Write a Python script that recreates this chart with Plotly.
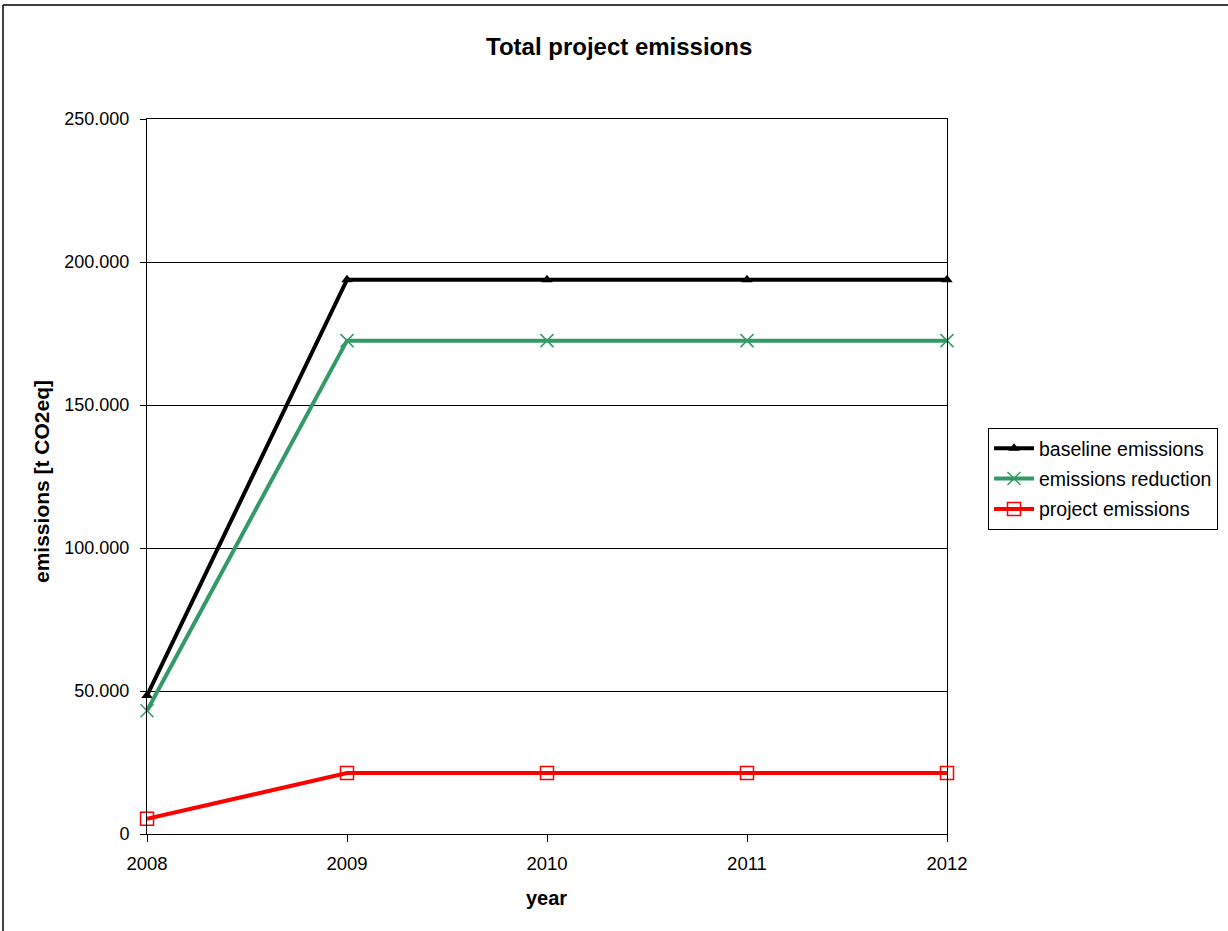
import plotly.graph_objects as go

years = [2008, 2009, 2010, 2011, 2012]
baseline = [48400, 193800, 193800, 193800, 193800]
reduction = [43100, 172500, 172500, 172500, 172500]
project = [5300, 21300, 21300, 21300, 21300]
y_ticks = [0, 50000, 100000, 150000, 200000, 250000]

fig = go.Figure()
fig.add_trace(go.Scatter(x=years, y=baseline, name="baseline emissions", mode="lines+markers",
                         legendgroup="a", cliponaxis=False,
                         line=dict(color="black", width=4),
                         marker=dict(symbol="triangle-up", size=10, color="black")))
fig.add_trace(go.Scatter(x=years, y=reduction, name="emissions reduction", mode="lines+markers",
                         legendgroup="b", cliponaxis=False,
                         line=dict(color="#339966", width=4),
                         marker=dict(symbol="x-thin", size=13, line=dict(color="#339966", width=1.5))))
fig.add_trace(go.Scatter(x=years, y=project, name="project emissions", mode="lines+markers",
                         legendgroup="c", cliponaxis=False,
                         line=dict(color="#ff0000", width=4),
                         marker=dict(symbol="square-open", size=13, color="#ff0000", line=dict(width=1.5))))

font = "Liberation Sans, Arial, sans-serif"
fig.update_layout(
    width=1228, height=931,
    margin=dict(l=147, r=281, t=119, b=97, autoexpand=False),
    paper_bgcolor="white", plot_bgcolor="white",
    separators=",.",
    font=dict(family=font, size=18, color="black"),
    showlegend=True,
    legend=dict(x=(988-147)/800, y=(834-428)/715, xanchor="left", yanchor="top",
                bordercolor="black", borderwidth=1, bgcolor="white",
                font=dict(size=19.5, family=font), tracegroupgap=2, itemwidth=40),
    xaxis=dict(range=[2008, 2012], tickvals=years, ticktext=[str(y) for y in years],
               showgrid=False, zeroline=False, showline=True, linecolor="black", linewidth=1,
               mirror=True, ticks="outside", ticklen=7, tickcolor="black",
               ticklabelstandoff=6, tickfont=dict(size=18.5)),
    yaxis=dict(range=[0, 250000], tickvals=y_ticks, tickformat=",.0f",
               showgrid=True, gridcolor="black", gridwidth=1, zeroline=False,
               showline=True, linecolor="black", linewidth=1, mirror=True,
               ticks="outside", ticklen=6, tickcolor="black", ticklabelstandoff=7,
               tickfont=dict(size=18)),
    annotations=[
        dict(text="<b>Total project emissions</b>", x=(619-147)/800, y=(834-46)/715,
             xref="paper", yref="paper", showarrow=False, font=dict(size=24, family=font),
             xanchor="center", yanchor="middle"),
        dict(text="<b>year</b>", x=(546-147)/800, y=(834-898)/715, xref="paper", yref="paper",
             showarrow=False, font=dict(size=20, family=font), xanchor="center", yanchor="middle"),
        dict(text="<b>emissions [t CO2eq]</b>", x=(41-147)/800, y=(834-482)/715, xref="paper",
             yref="paper", showarrow=False, textangle=-90, font=dict(size=21, family=font),
             xanchor="center", yanchor="middle"),
    ],
    shapes=[
        dict(type="line", xref="paper", yref="paper", x0=(3-147)/800, x1=(1240-147)/800,
             y0=(834-5)/715, y1=(834-5)/715, line=dict(color="black", width=1.5)),
        dict(type="line", xref="paper", yref="paper", x0=(3-147)/800, x1=(3-147)/800,
             y0=(834-5)/715, y1=(834-940)/715, line=dict(color="black", width=1.5)),
    ],
)
fig.write_html("out.html")
